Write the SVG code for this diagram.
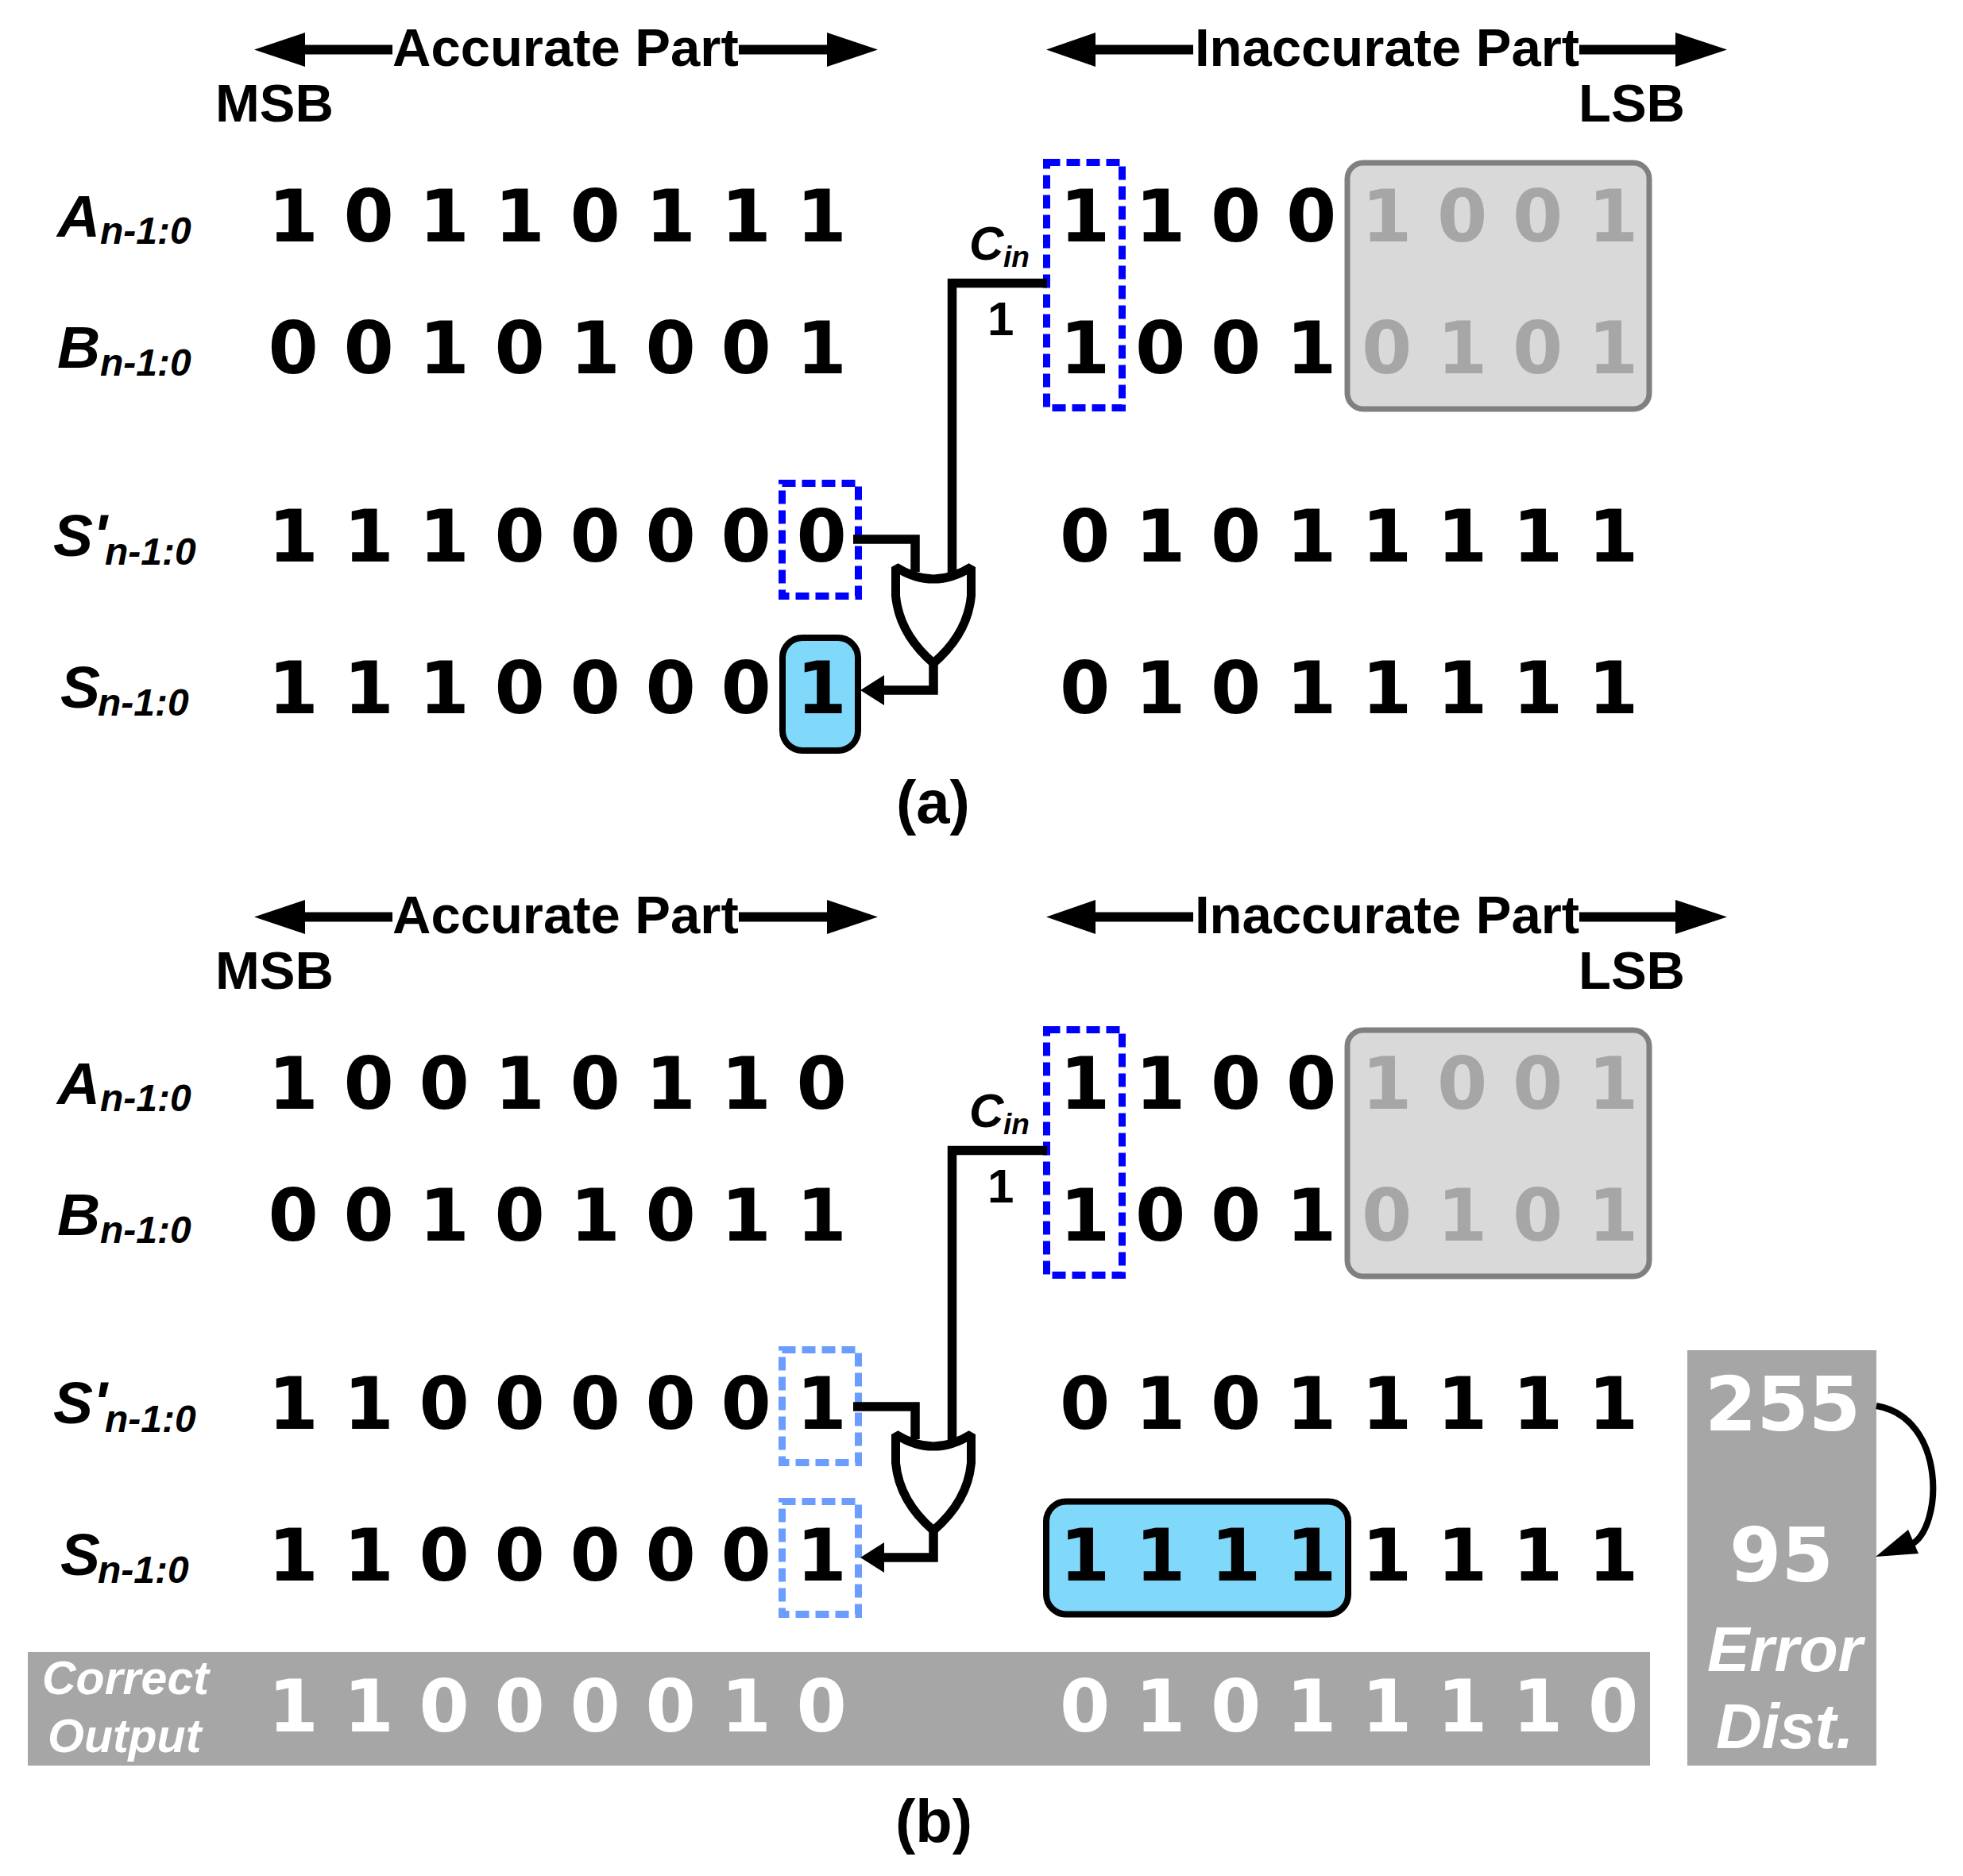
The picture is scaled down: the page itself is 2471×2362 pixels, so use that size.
<svg xmlns="http://www.w3.org/2000/svg" width="2471" height="2362" viewBox="0 0 2471 2362">
<style>
text{font-family:"Liberation Sans",Arial,sans-serif;font-weight:bold;fill:#000}
.d{font-family:"DejaVu Sans",sans-serif;font-size:91px;white-space:pre}
.n{font-family:"DejaVu Sans",sans-serif;font-size:94px}
.g{fill:#a6a6a6}.w{fill:#fff}
.h{font-size:67px}.p{font-size:76px}.l{font-style:italic;font-size:75px}.s{font-style:italic;font-size:48px}
.c{font-style:italic;font-size:59px}.e{font-style:italic;font-size:80px}
.wire{fill:none;stroke:#000;stroke-width:11.500}
.dash{fill:none;stroke:#00f;stroke-width:9;stroke-dasharray:17 8}
.dash2{fill:none;stroke:#6b9dff;stroke-width:9;stroke-dasharray:17 8}
.cy{fill:#80d8fb;stroke:#000;stroke-width:8}
.gb{fill:#d9d9d9;stroke:#808080;stroke-width:7}
.bar{fill:#a6a6a6}
.gate{fill:#fff;stroke:#000;stroke-width:11;stroke-linejoin:bevel}
</style>
<defs>
<g id="hdr">
<path d="M320 62.500 L384 41 V56.500 H494 V68.500 H384 V84 Z M1105 62.500 L1041 41 V56.500 H930 V68.500 H1041 V84 Z M1317 62.500 L1379 41 V56.500 H1502 V68.500 H1379 V84 Z M2174 62.500 L2109 41 V56.500 H1988 V68.500 H2109 V84 Z"/>
<text class="h" x="494" y="83">Accurate Part</text>
<text class="h" x="1504" y="83">Inaccurate Part</text>
<text class="h" x="271" y="153">MSB</text>
<text class="h" x="1987" y="153">LSB</text>
<text class="l" x="72" y="298">A</text><text class="s" x="126" y="307">n-1:0</text>
<text class="l" x="72" y="463">B</text><text class="s" x="126" y="473">n-1:0</text>
<text class="l" x="67" y="700">S'</text><text class="s" x="132" y="711">n-1:0</text>
<text class="l" x="76" y="891">S</text><text class="s" x="123" y="901">n-1:0</text>
<rect class="gb" x="1696" y="205" width="380" height="310" rx="20"/>
<text class="d" x="1334" y="304">1 1 0 0 <tspan class="g">1 0 0 1</tspan></text>
<text class="d" x="1334" y="470">1 0 0 1 <tspan class="g">0 1 0 1</tspan></text>
<text class="d" x="1334" y="707">0 1 0 1 1 1 1 1</text>
<rect class="dash" x="1317.500" y="204.500" width="95" height="309"/>
<path class="wire" d="M1318 356.500 H1198.500 V725"/>
<text class="s" x="1220" y="327" style="font-size:60px">C</text><text class="s" x="1263" y="336" style="font-size:37px">in</text>
<text x="1243" y="422" style="font-size:60px">1</text>
<path class="wire" d="M1074 679 H1152 V720"/>
<path class="gate" d="M1127.500 714 Q1175 744 1222.500 714 L1222.500 750 Q1218 798 1175 835 Q1132 798 1127.500 750 Z"/>
<path class="wire" d="M1175 834 V869 H1110"/>
<path d="M1083 869 L1113 850 V888 Z"/>
</g>
</defs>
<g id="panel-a">
<rect class="dash" x="984.500" y="608.500" width="96" height="142"/>
<rect class="cy" x="985" y="803" width="95" height="142" rx="25"/>
<use href="#hdr"/>
<text class="d" x="337.500" y="304">1 0 1 1 0 1 1 1</text>
<text class="d" x="337.500" y="470">0 0 1 0 1 0 0 1</text>
<text class="d" x="337.500" y="707">1 1 1 0 0 0 0 0</text>
<text class="d" x="337.500" y="898">1 1 1 0 0 0 0 1</text>
<text class="d" x="1334" y="898">0 1 0 1 1 1 1 1</text>
<text class="p" x="1128" y="1036">(a)</text>
</g>
<g id="panel-b">
<rect class="dash2" x="984.500" y="1699.500" width="96" height="142"/>
<rect class="dash2" x="984.500" y="1890.500" width="96" height="142"/>
<use href="#hdr" y="1092"/>
<text class="d" x="337.500" y="1396">1 0 0 1 0 1 1 0</text>
<text class="d" x="337.500" y="1562">0 0 1 0 1 0 1 1</text>
<text class="d" x="337.500" y="1799">1 1 0 0 0 0 0 1</text>
<text class="d" x="337.500" y="1990">1 1 0 0 0 0 0 1</text>
<rect class="cy" x="1317" y="1890.500" width="380" height="142" rx="25"/>
<text class="d" x="1334" y="1990">1 1 1 1 1 1 1 1</text>
<rect class="bar" x="35" y="2080" width="2042" height="143"/>
<text class="d w" x="337.500" y="2180">1 1 0 0 0 0 1 0</text>
<text class="d w" x="1334" y="2180">0 1 0 1 1 1 1 0</text>
<text class="c w" x="53" y="2133">Correct</text>
<text class="c w" x="60" y="2206">Output</text>
<rect class="bar" x="2124" y="1700" width="238" height="523"/>
<text class="n w" x="2146" y="1801">255</text>
<text class="n w" x="2177" y="1991">95</text>
<text class="e w" x="2149" y="2104">Error</text>
<text class="e w" x="2160" y="2201">Dist.</text>
<path d="M2362 1770 C2451 1785 2446 1925 2405 1945" fill="none" stroke="#000" stroke-width="8"/>
<path d="M2361 1960 L2402 1926 L2415 1956 Z"/>
<text class="p" x="1127" y="2319">(b)</text>
</g>
</svg>
